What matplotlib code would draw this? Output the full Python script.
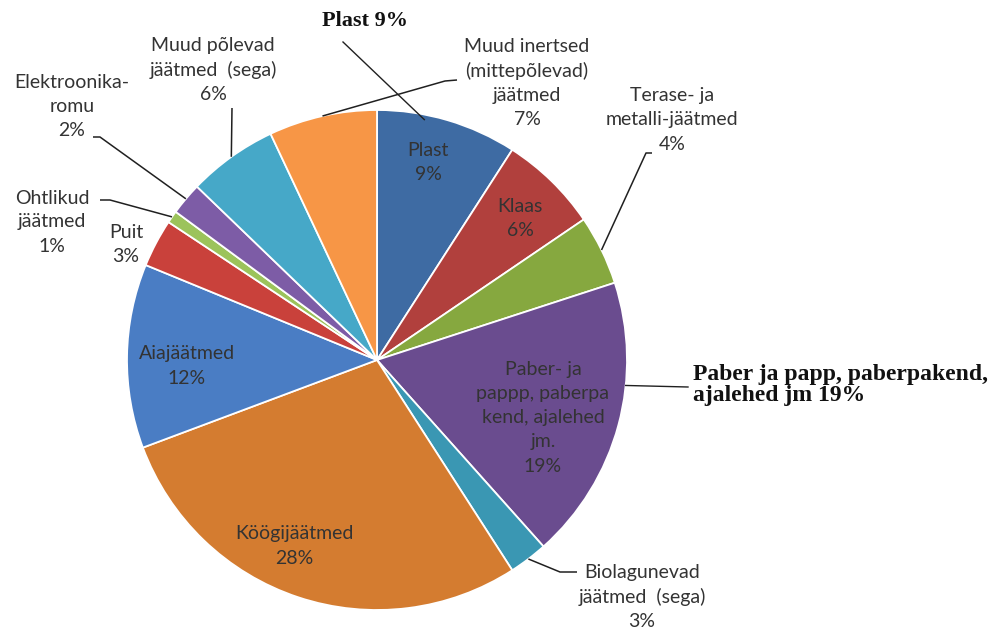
import numpy as np
import matplotlib
matplotlib.use("Agg")
import matplotlib.pyplot as plt

# ---- data ----
categories = ["Plast", "Klaas", "Terase- ja metalli-jäätmed",
              "Paber- ja pappp, paberpakend, ajalehed jm.",
              "Biolagunevad jäätmed (sega)", "Köögijäätmed", "Aiajäätmed",
              "Puit", "Ohtlikud jäätmed", "Elektroonika-romu",
              "Muud põlevad jäätmed (sega)",
              "Muud inertsed (mittepõlevad) jäätmed"]
shares = [9.1, 6.4, 4.5, 18.4, 2.5, 28.4, 11.9, 3.1, 0.8, 2.1, 5.8, 7.0]
pct_labels = ["9%", "6%", "4%", "19%", "3%", "28%", "12%", "3%", "1%", "2%", "6%", "7%"]
label_names = ["Plast", "Klaas", "Terase- ja\nmetalli-jäätmed",
               "Paber- ja\npappp, paberpa\nkend, ajalehed\njm.",
               "Biolagunevad\njäätmed  (sega)", "Köögijäätmed", "Aiajäätmed",
               "Puit", "Ohtlikud\njäätmed", "Elektroonika-\nromu",
               "Muud põlevad\njäätmed  (sega)",
               "Muud inertsed\n(mittepõlevad)\njäätmed"]
colors = ["#3E6BA3", "#B1403D", "#86A83F", "#6A4C8F", "#3A97B3", "#D47C30",
          "#4A7DC4", "#C9413B", "#9CC35B", "#7D5CA6", "#46A8C8", "#F79646"]
bold_notes = ["Plast 9%", "Paber ja papp, paberpakend,\najalehed jm 19%"]

W, H = 1001, 634
fig = plt.figure(figsize=(W / 100, H / 100), dpi=100)
ax = fig.add_axes([0, 0, 1, 1])

CX, CY, R = 377, H - 360, 250
wedges, _ = ax.pie(shares, colors=colors, startangle=90, counterclock=False,
                   center=(CX, CY), radius=R, frame=True,
                   wedgeprops=dict(edgecolor="white", linewidth=1.3))
ax.set_xlim(0, W)
ax.set_ylim(0, H)
ax.set_aspect("equal")
ax.axis("off")

FONT = "Lato"
FS = 14
TC = "#333333"


def P(x, y):
    return x, H - y


def edge_pt(i, frac=0.5, rf=1.0):
    w = wedges[i]
    a = np.deg2rad(w.theta1 + frac * (w.theta2 - w.theta1))
    return CX + rf * R * np.cos(a), CY + rf * R * np.sin(a)


# label positions (pixel, top-left origin)
label_pos = {0: (428, 162), 1: (520, 218), 2: (672, 120), 3: (543, 418),
             4: (642, 597), 5: (294, 546), 6: (187, 366), 7: (126, 245),
             8: (52, 222), 9: (72, 106), 10: (213, 70), 11: (527, 83)}
for i, (x, y) in label_pos.items():
    ax.text(*P(x, y), label_names[i] + "\n" + pct_labels[i], ha="center",
            va="center", fontsize=FS, family=FONT, color=TC, linespacing=1.5)

leaders = {
    2: [(652, 153), (646, 153)],
    4: [(577, 572), (560, 572)],
    8: [(100, 200), (110, 200)],
    9: [(93, 137), (100, 137)],
    10: [(232, 108)],
    11: [(457, 80), (445, 81)],
}
for i, pts in leaders.items():
    xs = [p[0] for p in pts]
    ys = [H - p[1] for p in pts]
    ex, ey = edge_pt(i)
    xs.append(ex)
    ys.append(ey)
    ax.plot(xs, ys, color="#202020", lw=1.1, solid_capstyle="butt")

# bold serif annotations
ax.text(*P(322, 21), bold_notes[0], ha="left", va="center", fontsize=16,
        family="Liberation Serif", weight="bold", color="#111111")
ex, ey = edge_pt(0, 0.66, 0.98)
ax.plot([343, ex], [H - 42, ey], color="#202020", lw=1.0)

ax.text(*P(693, 385), bold_notes[1], ha="left", va="center", fontsize=17,
        family="Liberation Serif", weight="bold", color="#111111",
        linespacing=1.0)
ex, ey = edge_pt(3, 0.64, 1.0)
ax.plot([ex, 688], [ey, H - 387], color="#202020", lw=1.0)

fig.savefig("out.png", dpi=100, facecolor="white")
